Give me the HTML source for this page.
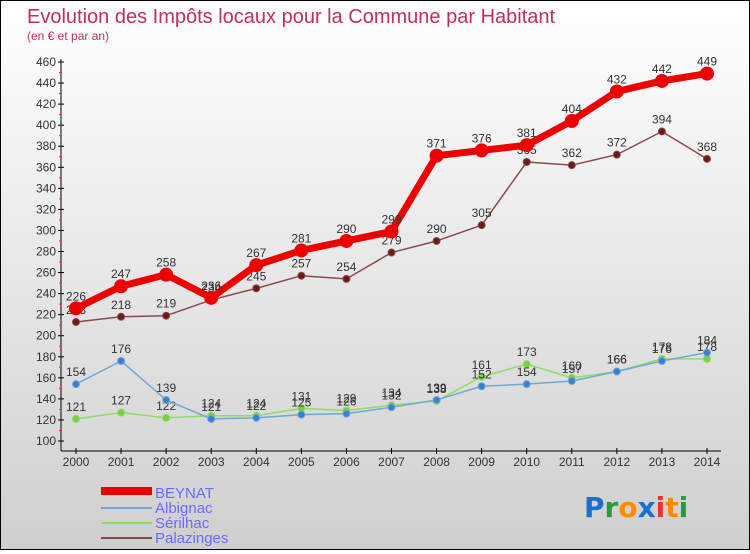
<!DOCTYPE html>
<html><head><meta charset="utf-8"><style>
html,body{margin:0;padding:0}
body{width:750px;height:550px;overflow:hidden;font-family:"Liberation Sans",sans-serif}
#wrap{position:absolute;left:0;top:0;width:748px;height:548px;border:1px solid #000;background:linear-gradient(#ffffff,#cfcfcf)}
</style></head><body>
<div id="wrap">
<svg id="chart" width="748" height="548" xmlns="http://www.w3.org/2000/svg">
<text x="26" y="22" font-size="20" fill="#c0305a">Evolution des Impôts locaux pour la Commune par Habitant</text>
<text x="26" y="39" font-size="12" fill="#c0305a">(en € et par an)</text>
<g id="axes"></g>
<g id="series"></g>
<g id="legend">
<rect x="100" y="486" width="51" height="8" fill="#e00"/>
<text x="154" y="497" font-size="15" fill="#6a6aff">BEYNAT</text>
<line x1="100" y1="507" x2="151" y2="507" stroke="#6fa8d6" stroke-width="2"/>
<text x="154" y="512" font-size="15" fill="#6a6aff">Albignac</text>
<line x1="100" y1="522" x2="151" y2="522" stroke="#8fdc6a" stroke-width="2"/>
<text x="154" y="527" font-size="15" fill="#6a6aff">Sérilhac</text>
<line x1="100" y1="537" x2="151" y2="537" stroke="#8a4a4a" stroke-width="2"/>
<text x="154" y="542" font-size="15" fill="#6a6aff">Palazinges</text>
</g>
<g font-size="28" font-family="'DejaVu Sans',sans-serif" font-weight="bold">
<text x="583" y="516"><tspan fill="#1a6fd0">P</tspan><tspan fill="#2a9a3a">r</tspan><tspan fill="#ff8a00">o</tspan><tspan fill="#1a6fd0">x</tspan><tspan fill="#ee3322">i</tspan><tspan fill="#ff8a00">t</tspan><tspan fill="#2a9a3a">i</tspan></text>
</g>
</svg>
</div>
<script>
const years=[2000,2001,2002,2003,2004,2005,2006,2007,2008,2009,2010,2011,2012,2013,2014];
const beynat=[226,247,258,236,267,281,290,299,371,376,381,404,432,442,449];
const albignac=[154,176,139,121,122,125,126,132,139,152,154,157,166,176,184];
const serilhac=[121,127,122,124,124,131,129,134,138,161,173,160,166,178,178];
const palazinges=[213,218,219,234,245,257,254,279,290,305,365,362,372,394,368];
const yTicks=[100,120,140,160,180,200,220,240,260,280,300,320,340,360,380,400,420,440,460];
const NS="http://www.w3.org/2000/svg";
function X(i){return 75+i*(706-75)/(years.length-1);}
function Y(v){return 440-(v-100)*(440-61)/360;}
function mk(tag,attrs,parent){const e=document.createElementNS(NS,tag);for(const k in attrs)e.setAttribute(k,attrs[k]);parent.appendChild(e);return e;}
const axes=document.getElementById('axes');
let a=mk('line',{x1:60,y1:58,x2:60,y2:450,stroke:'#000'},axes);


a=mk('line',{x1:60,y1:450,x2:720,y2:450,stroke:'#000'},axes);


yTicks.forEach(t=>{
 mk('line',{x1:57,y1:Y(t),x2:63,y2:Y(t),stroke:'#000'},axes);
 if(t<460) mk('line',{x1:58,y1:Y(t+10),x2:61,y2:Y(t+10),stroke:'#e33'},axes);
 const tx=mk('text',{x:55,y:Y(t)+4,'font-size':12,'text-anchor':'end',fill:'#333'},axes);
 tx.textContent=t;
 
 
});
years.forEach((yr,i)=>{
 mk('line',{x1:X(i),y1:447,x2:X(i),y2:453,stroke:'#000'},axes);
 const tx=mk('text',{x:X(i),y:465,'font-size':12,'text-anchor':'middle',fill:'#333'},axes);
 tx.textContent=yr;
 
 
});
const ser=document.getElementById('series');
function draw(name,vals,color,w,r,dot){
 const g=mk('g',{},ser);
 
 
 const pts=vals.map((v,i)=>X(i)+','+Y(v)).join(' ');
 const pl=mk('polyline',{points:pts,fill:'none',stroke:color,'stroke-width':w,'stroke-linejoin':'round'},g);
 
 
 vals.forEach((v,i)=>{
  const c=mk('circle',{cx:X(i),cy:Y(v),r:r,fill:dot,stroke:color,'stroke-width':1},g);
  
  
  const t=mk('text',{x:X(i),y:Y(v)-8,'font-size':12,'text-anchor':'middle',fill:'#333'},g);
  t.textContent=v;
  
  
 });
}
draw('serilhac',serilhac,'#8fdc6a',1.5,3.5,'#7ccc44');
draw('albignac',albignac,'#6fa8d6',1.5,3.5,'#3a7fd0');
draw('palazinges',palazinges,'#8a4a4a',1.5,3.5,'#6a1a1a');
draw('beynat',beynat,'#ee0000',7,6.5,'#ee0000');
</script>
</body></html>
